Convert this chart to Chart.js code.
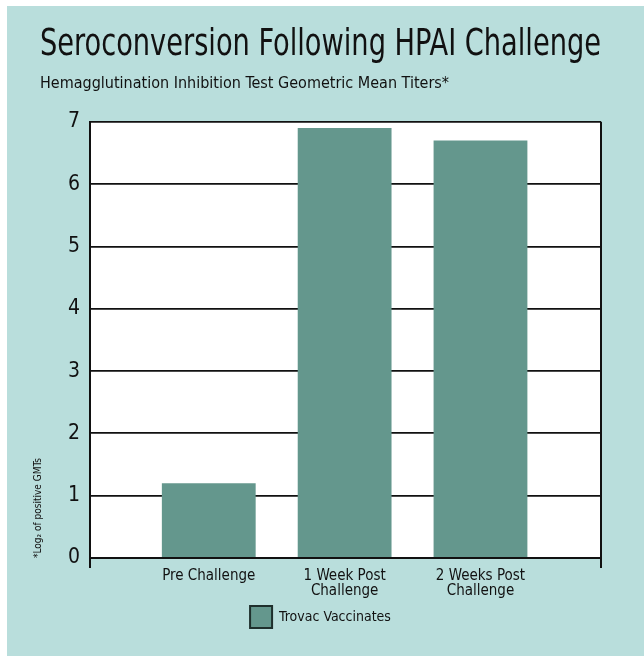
<!DOCTYPE html>
<html>
<head>
<meta charset="utf-8">
<script src="https://cdn.jsdelivr.net/npm/chart.js@4"></script>
<style>
  html, body { margin: 0; padding: 0; background: #ffffff; }
  .frame { position: absolute; left: 7px; top: 6px; width: 637px; height: 650px; background: #b9dedc; }
  canvas { display: block; }
</style>
</head>
<body>
<div class="frame"><canvas id="seroChart" width="637" height="650"></canvas></div>
<script>
/* ========================================
   DADOS
   ======================================== */
const categorias = [['Pre Challenge'], ['1 Week Post', 'Challenge'], ['2 Weeks Post', 'Challenge']];
const titulos = [1.2, 6.9, 6.7];
const yTicks = [0, 1, 2, 3, 4, 5, 6, 7];
const serieNome = 'Trovac Vaccinates';

const FONTE = "'Liberation Sans Narrow', 'DejaVu Sans Condensed', 'Roboto Condensed', 'Arial Narrow', sans-serif";

/* ========================================
   PLUGIN - fundo branco da área do gráfico
   ======================================== */
const fundoBranco = {
  id: 'fundoBranco',
  beforeDraw(chart) {
    const { ctx, chartArea: a } = chart;
    ctx.save();
    ctx.fillStyle = '#ffffff';
    ctx.fillRect(a.left, a.top, a.right - a.left, a.bottom - a.top);
    ctx.restore();
  }
};

/* ========================================
   GRÁFICO
   ======================================== */
function buildChart() {
  const canvas = document.getElementById('seroChart');
  if (!canvas) return;

  new Chart(canvas, {
    type: 'bar',
    data: {
      datasets: [{
        label: serieNome,
        data: titulos.map((v, i) => ({ x: i + 1, y: v })),
        backgroundColor: '#64978d',
        borderWidth: 0,
        barPercentage: 0.79,
        categoryPercentage: 1
      }]
    },
    plugins: [fundoBranco],
    options: {
      responsive: false,
      animation: false,
      layout: { padding: { left: 33, right: 43, top: 15, bottom: 18 } },
      plugins: {
        title: {
          display: true,
          text: 'Seroconversion Following HPAI Challenge',
          align: 'start',
          color: '#111',
          font: { family: FONTE, size: 38, weight: 'normal' },
          padding: { top: 1, bottom: 7 }
        },
        subtitle: {
          display: true,
          text: 'Hemagglutination Inhibition Test Geometric Mean Titers*',
          align: 'start',
          color: '#111',
          font: { family: FONTE, size: 16 },
          padding: { top: 0, bottom: 28 }
        },
        legend: {
          position: 'bottom',
          labels: {
            color: '#111',
            font: { family: FONTE, size: 14 },
            boxWidth: 22,
            boxHeight: 22,
            padding: 6,
            generateLabels: function(chart) {
              return Chart.defaults.plugins.legend.labels.generateLabels(chart).map(l => {
                l.lineWidth = 2;
                l.strokeStyle = '#1e2f2c';
                return l;
              });
            }
          }
        },
        tooltip: { enabled: false }
      },
      scales: {
        x: {
          type: 'linear',
          offset: false,
          min: 0.126,
          max: 3.887,
          ticks: {
            stepSize: 1,
            autoSkip: false,
            maxRotation: 0,
            padding: 1,
            color: '#111',
            font: { family: FONTE, size: 15, lineHeight: 1.0 },
            callback: function(v) {
              return Number.isInteger(v) ? categorias[v - 1] : '';
            }
          },
          grid: {
            offset: false,
            drawOnChartArea: true,
            drawTicks: true,
            tickLength: 10,
            lineWidth: 2,
            color: function(ctx) {
              const n = ctx.scale.ticks.length;
              return (ctx.index === 0 || ctx.index === n - 1) ? '#111' : 'rgba(0,0,0,0)';
            }
          },
          border: { display: true, color: '#111', width: 2 }
        },
        y: {
          min: 0,
          max: 7,
          afterBuildTicks: function(axis) {
            axis.ticks = yTicks.map(v => ({ value: v }));
          },
          ticks: {
            padding: 10,
            color: '#111',
            font: { family: FONTE, size: 21 }
          },
          grid: {
            color: '#111',
            lineWidth: 1.8,
            drawTicks: false
          },
          border: { display: true, color: '#111', width: 2 },
          title: {
            display: true,
            text: '*Log\u2082 of positive GMTs',
            align: 'start',
            color: '#111',
            font: { family: FONTE, size: 10 },
            padding: { top: -8, bottom: 14 }
          }
        }
      }
    }
  });
}

buildChart();
</script>
</body>
</html>
